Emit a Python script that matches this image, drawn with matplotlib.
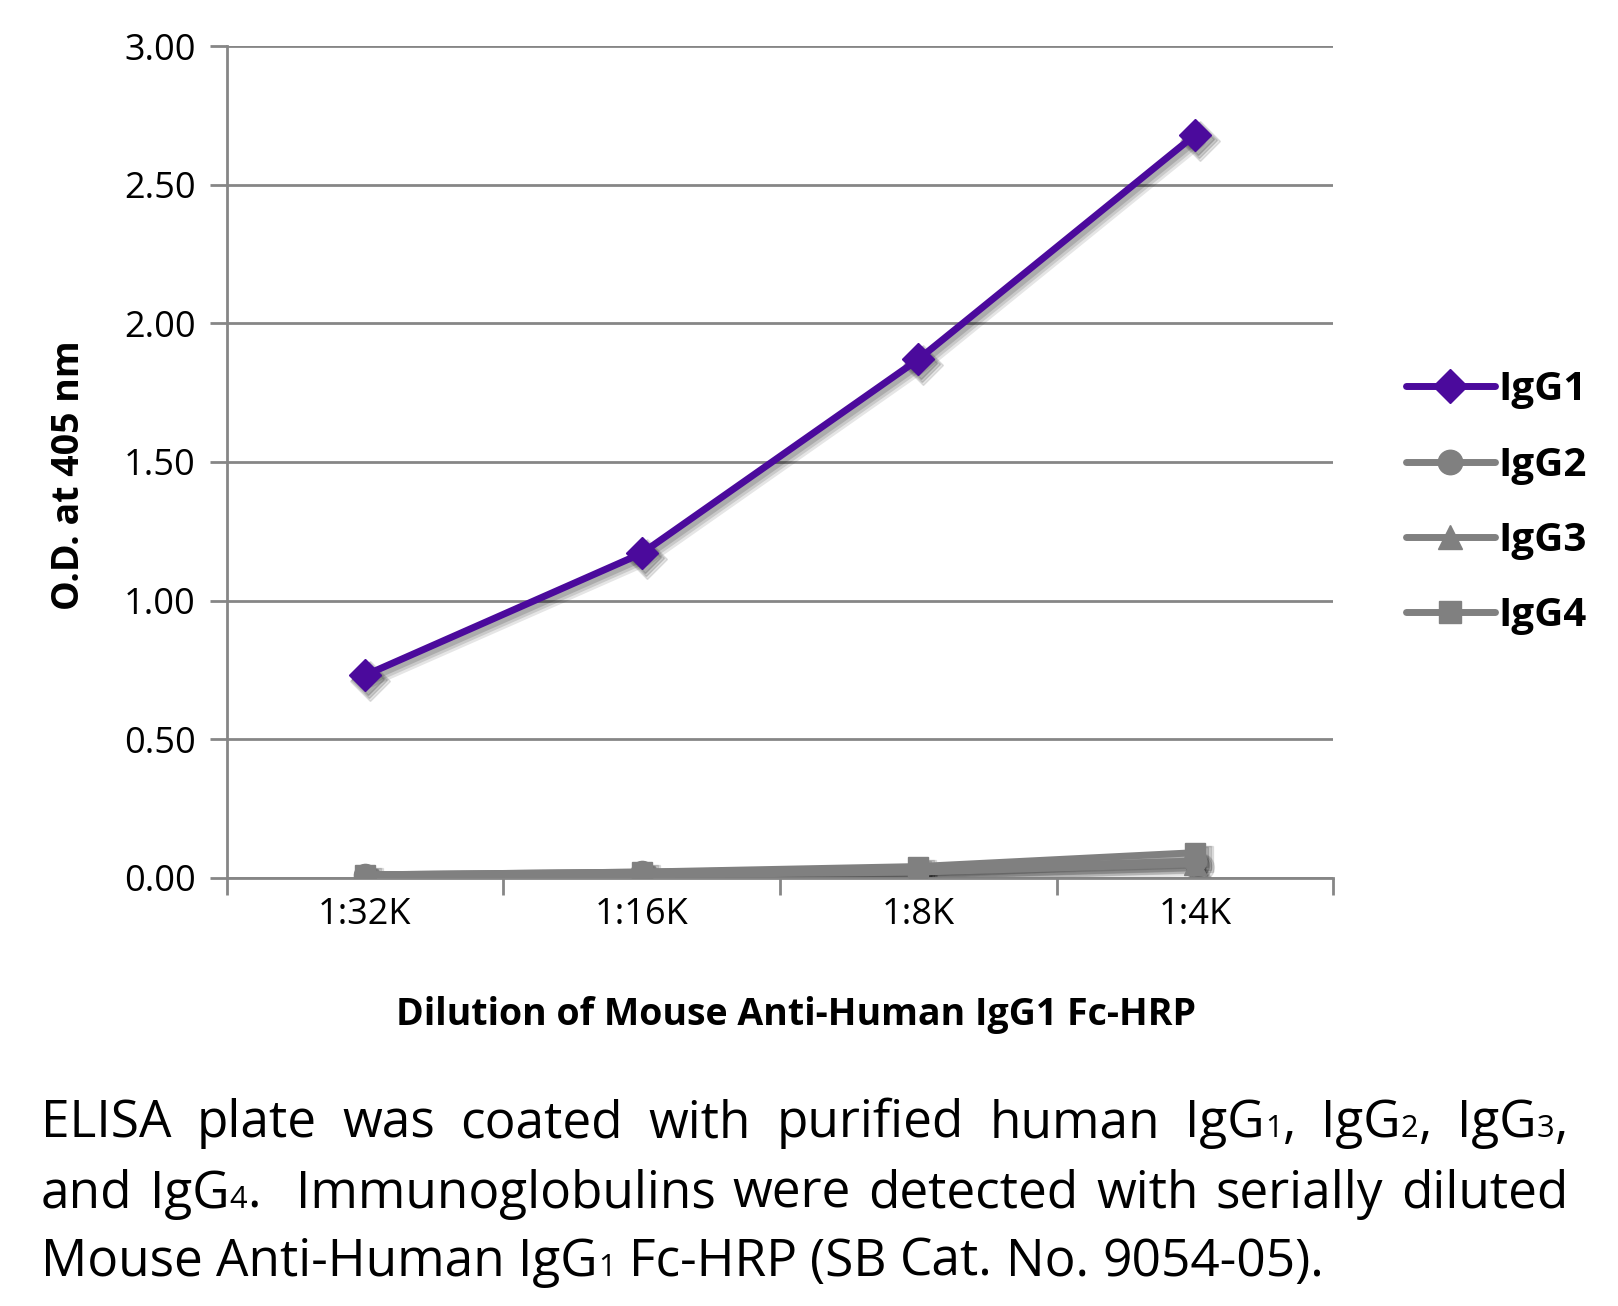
import matplotlib
matplotlib.use("Agg")
import matplotlib.pyplot as plt
from matplotlib import transforms as mtrans

categories = ["1:32K", "1:16K", "1:8K", "1:4K"]
igg1 = [0.73, 1.17, 1.87, 2.68]
igg2 = [0.01, 0.02, 0.03, 0.06]
igg3 = [0.01, 0.01, 0.02, 0.05]
igg4 = [0.01, 0.02, 0.04, 0.09]
series_names = ["IgG1", "IgG2", "IgG3", "IgG4"]
yticks = [0.0, 0.5, 1.0, 1.5, 2.0, 2.5, 3.0]

PURPLE = "#4B0A9C"
GRAY = "#808080"
tick_font = "Open Sans"
cap_font = "Open Sans"

fig = plt.figure(figsize=(16.18, 13.06), dpi=100)
ax = fig.add_axes([0.140, 0.328, 0.824 - 0.140, 0.9645 - 0.328])

x = list(range(len(categories)))
styles = [(igg4, "s", GRAY, 15), (igg3, "^", GRAY, 16), (igg2, "o", GRAY, 16), (igg1, "D", PURPLE, 16)]
handles = {}
for (vals, mk, col, ms), name in zip(styles, ["IgG4", "IgG3", "IgG2", "IgG1"]):
    # soft drop shadow
    for k, (dx, dy, a) in enumerate([(5, -6, 0.10), (4, -5, 0.12), (3, -4, 0.14)]):
        tr = mtrans.offset_copy(ax.transData, fig=fig, x=dx, y=dy, units="dots")
        ax.plot(x, vals, color="black", lw=5 + 2 * (2 - k), marker=mk, ms=ms + 2 * (2 - k),
                mec="black", mfc="black", alpha=a, transform=tr, zorder=2,
                solid_capstyle="round", solid_joinstyle="round")
    ln, = ax.plot(x, vals, color=col, lw=5, marker=mk, ms=ms, mec=col, mfc=col,
                  zorder=3, solid_capstyle="round", solid_joinstyle="round")
    handles[name] = ln

ax.set_xlim(-0.5, 3.5)
ax.set_ylim(0, 3.0)
ax.set_yticks(yticks)
ax.set_yticklabels([f"{v:.2f}" for v in yticks], fontsize=26, family=tick_font)
ax.set_xticks(x)
ax.set_xticklabels(categories, fontsize=26, family=tick_font)
ax.set_xticks([-0.5, 0.5, 1.5, 2.5, 3.5], minor=True)
ax.tick_params(axis="x", which="major", length=0, pad=14)
ax.tick_params(axis="x", which="minor", length=12, width=2, color="#868686", direction="out")
ax.tick_params(axis="y", length=12, width=2, color="#868686", direction="out", pad=10)
ax.grid(axis="y", color="#868686", lw=2)
ax.set_axisbelow(True)
for s in ["top", "right"]:
    ax.spines[s].set_visible(False)
for s in ["left", "bottom"]:
    ax.spines[s].set_color("#868686")
    ax.spines[s].set_linewidth(2)

ax.set_ylabel("O.D. at 405 nm", fontsize=27, fontweight="bold", family=tick_font)
ax.yaxis.set_label_coords(-0.125, 0.484)
ax.set_xlabel("Dilution of Mouse Anti-Human IgG1 Fc-HRP", fontsize=27, fontweight="bold",
              family=tick_font)
ax.xaxis.set_label_coords(0.515, -0.142)

leg = fig.legend([handles[n] for n in series_names], series_names, loc="center left",
                 bbox_to_anchor=(0.869, 0.615), frameon=False, borderpad=0, borderaxespad=0,
                 prop={"family": tick_font, "weight": "bold", "size": 29},
                 handlelength=2.2, handletextpad=0.1, labelspacing=0.9, markerscale=1.1)

# caption, justified
cap_lines = [
    [[("ELISA", 1)], [("plate", 1)], [("was", 1)], [("coated", 1)], [("with", 1)], [("purified", 1)],
     [("human", 1)], [("IgG", 1), ("1", 0.6), (",", 1)], [("IgG", 1), ("2", 0.6), (",", 1)],
     [("IgG", 1), ("3", 0.6), (",", 1)]],
    [[("and", 1)], [("IgG", 1), ("4", 0.6), (".", 1)], [("", 1)], [("Immunoglobulins", 1)], [("were", 1)],
     [("detected", 1)], [("with", 1)], [("serially", 1)], [("diluted", 1)]],
    [[("Mouse", 1)], [("Anti-Human", 1)], [("IgG", 1), ("1", 0.6)], [("Fc-HRP", 1)], [("(SB", 1)],
     [("Cat.", 1)], [("No.", 1)], [("9054-05).", 1)]],
]
justify = [True, True, False]
baselines = [1137, 1208, 1276]
left_px, right_px = 41, 1568
cap_size = 37

fig.canvas.draw()
r = fig.canvas.get_renderer()
W, H = fig.get_size_inches() * fig.dpi

def measure(txt, size):
    t = fig.text(0, 0, txt, fontsize=size, family=cap_font)
    bb = t.get_window_extent(renderer=r)
    t.remove()
    return bb.width

space_w = measure("a a", cap_size) - measure("aa", cap_size)
for line, just, base in zip(cap_lines, justify, baselines):
    widths = []
    for word in line:
        widths.append(sum(measure(s, cap_size * f) if s else 0 for s, f in word))
    total = sum(widths)
    gap = (right_px - left_px - total) / (len(line) - 1) if just else space_w
    xp = left_px
    for word, w in zip(line, widths):
        xx = xp
        for s, f in word:
            if not s:
                continue
            fig.text(xx / W, 1 - base / H, s, fontsize=cap_size * f, family=cap_font,
                     va="baseline", ha="left")
            xx += measure(s, cap_size * f)
        xp += w + gap

fig.savefig("out.png", dpi=100)
